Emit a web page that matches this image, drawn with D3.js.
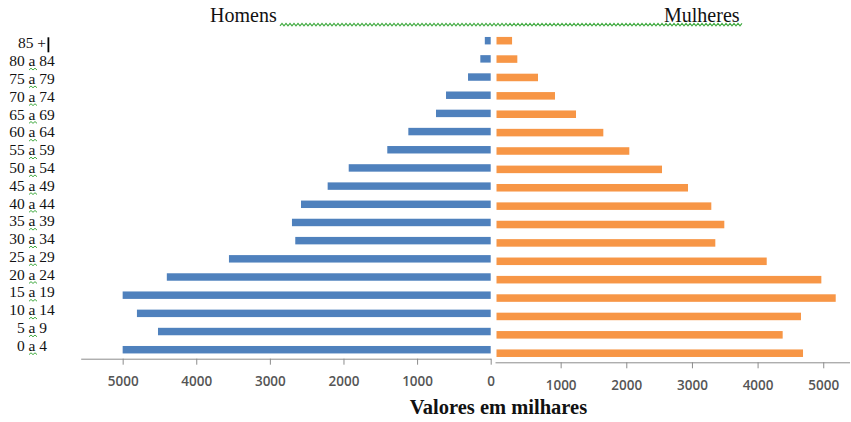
<!DOCTYPE html>
<html>
<head>
  <meta charset="utf-8">
  <script src="https://cdn.jsdelivr.net/npm/d3@7/dist/d3.min.js"></script>
</head>
<style>
  html, body {
    margin: 0;
    padding: 0;
    background: #fff;
  }
  .axis path, .axis line {
    stroke: #8c8c8c;
  }
  .axis text {
    font-family: "Open Sans", sans-serif;
    font-weight: 600;
    font-size: 13.5px;
    fill: #555;
  }
</style>
<body>
  <svg id="chart" width="851" height="422"></svg>

  <script type="text/javascript">
    // faixas etarias, de baixo para cima
    var ages = ['0 a 4', '5 a 9', '10 a 14', '15 a 19', '20 a 24', '25 a 29', '30 a 34', '35 a 39',
                '40 a 44', '45 a 49', '50 a 54', '55 a 59', '60 a 64', '65 a 69', '70 a 74',
                '75 a 79', '80 a 84', '85 +'];
    // valores em milhares
    var homens = [5000, 4520, 4806, 5000, 4400, 3556, 2655, 2700, 2577, 2215, 1929, 1405,
                  1119, 743, 607, 308, 141, 80];
    var mulheres = [4692, 4382, 4661, 5190, 4971, 4139, 3356, 3493, 3295, 2940, 2544, 2046,
                    1650, 1234, 914, 655, 340, 260];
    var ticks = [0, 1000, 2000, 3000, 4000, 5000];

    var svg = d3.select('#chart');
    var fmt = d3.format('d');

    // spell-check style squiggle
    function squiggle(x0, x1, y, amp) {
      var pts = [];
      for (var x = x0, k = 0; x <= x1; x += 2, k++) {
        pts.push([x, y + (k % 2 ? -amp : amp)]);
      }
      return d3.line()(pts);
    }

    //left chart (Homens)
    var xL = d3.scaleLinear()
      .domain([0, 5570])
      .range([490.7, 80.7]);
    var yL = d3.scaleBand()
      .domain(ages)
      .range([358.8, 31.6])
      .paddingInner(0.59)
      .paddingOuter(0.295);

    svg.append('g')
      .selectAll('rect')
      .data(homens)
      .enter()
      .append('rect')
      .attr('x', function (d) { return xL(d); })
      .attr('y', function (d, i) { return yL(ages[i]); })
      .attr('width', function (d) { return xL(0) - xL(d); })
      .attr('height', yL.bandwidth())
      .attr('fill', '#4f81bd');

    svg.append('g')
      .attr('class', 'axis')
      .attr('transform', 'translate(0,358.7)')
      .call(d3.axisBottom(xL).tickValues(ticks).tickFormat(fmt)
        .tickSize(6).tickSizeOuter(0).tickPadding(12));

    //right chart (Mulheres)
    var xR = d3.scaleLinear()
      .domain([0, 5400])
      .range([495, 849.5]);
    var yR = d3.scaleBand()
      .domain(ages)
      .range([362.4, 31.5])
      .paddingInner(0.59)
      .paddingOuter(0.295);

    svg.append('g')
      .selectAll('rect')
      .data(mulheres)
      .enter()
      .append('rect')
      .attr('x', xR(0) + 1.5)
      .attr('y', function (d, i) { return yR(ages[i]); })
      .attr('width', function (d) { return xR(d) - xR(0) - 1.5; })
      .attr('height', yR.bandwidth())
      .attr('fill', '#f79646');

    svg.append('g')
      .attr('class', 'axis')
      .attr('transform', 'translate(0,362.3)')
      .call(d3.axisBottom(xR).tickValues(ticks.slice(1)).tickFormat(fmt)
        .tickSize(6).tickSizeOuter(0).tickPadding(12));

    //age labels
    var yLab = d3.scalePoint()
      .domain(ages)
      .range([345.7, 43.3]);

    svg.append('g')
      .selectAll('text')
      .data(ages)
      .enter()
      .append('text')
      .attr('x', 32)
      .attr('y', function (d) { return yLab(d); })
      .attr('dy', '0.33em')
      .attr('text-anchor', 'middle')
      .attr('font-family', '"Liberation Serif", "Times New Roman", serif')
      .attr('font-size', 15.5)
      .attr('fill', '#111')
      .text(function (d) { return d; });

    svg.append('g')
      .selectAll('path')
      .data(ages.filter(function (d) { return d.indexOf(' a ') > 0; }))
      .enter()
      .append('path')
      .attr('d', function (d) { return squiggle(29, 37, yLab(d) + 8, 0.9); })
      .attr('fill', 'none')
      .attr('stroke', '#3faa3f')
      .attr('stroke-width', 1);

    // text cursor after "85 +"
    svg.append('rect')
      .attr('x', 47.5)
      .attr('y', yLab('85 +') - 6)
      .attr('width', 1.8)
      .attr('height', 15)
      .attr('fill', '#000');

    //titles
    svg.append('text')
      .attr('x', 210)
      .attr('y', 21.7)
      .attr('font-family', '"Liberation Serif", "Times New Roman", serif')
      .attr('font-size', 20)
      .attr('fill', '#111')
      .text('Homens');
    svg.append('text')
      .attr('x', 664)
      .attr('y', 21.7)
      .attr('font-family', '"Liberation Serif", "Times New Roman", serif')
      .attr('font-size', 20)
      .attr('fill', '#111')
      .text('Mulheres');
    svg.append('path')
      .attr('d', squiggle(280, 742, 24.6, 1.2))
      .attr('fill', 'none')
      .attr('stroke', '#3faa3f')
      .attr('stroke-width', 1.1);

    svg.append('text')
      .attr('x', 498.5)
      .attr('y', 414.3)
      .attr('text-anchor', 'middle')
      .attr('font-family', '"Liberation Serif", "Times New Roman", serif')
      .attr('font-weight', 'bold')
      .attr('font-size', 20.5)
      .attr('fill', '#111')
      .text('Valores em milhares');
  </script>
</body>
</html>
